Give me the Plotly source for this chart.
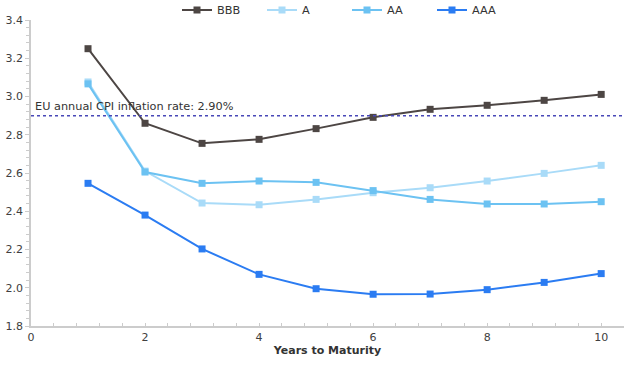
import plotly.graph_objects as go

years = [1, 2, 3, 4, 5, 6, 7, 8, 9, 10]
bbb = [3.25, 2.86, 2.755, 2.776, 2.832, 2.891, 2.933, 2.954, 2.980, 3.011]
a_rating = [3.076, 2.61, 2.443, 2.434, 2.462, 2.497, 2.523, 2.558, 2.598, 2.640]
aa = [3.066, 2.605, 2.546, 2.558, 2.551, 2.508, 2.462, 2.438, 2.438, 2.450]
aaa = [2.546, 2.380, 2.203, 2.070, 1.995, 1.966, 1.967, 1.990, 2.028, 2.074]
cpi_rate = 2.90
cpi_label = "EU annual CPI inflation rate: 2.90%"

series = [
    ("BBB", bbb, "#4d4644"),
    ("A", a_rating, "#a9dbf8"),
    ("AA", aa, "#6cc2f2"),
    ("AAA", aaa, "#2b7cf2"),
]

fig = go.Figure()
for name, vals, color in series:
    fig.add_trace(go.Scatter(
        x=years, y=vals, name=name, mode="lines+markers",
        line=dict(color=color, width=2),
        marker=dict(symbol="square", size=7, color=color),
    ))

fig.add_shape(type="line", xref="paper", yref="y", x0=0, x1=1,
              y0=cpi_rate, y1=cpi_rate,
              line=dict(color="#4848b8", width=1.5, dash="dot"))
fig.add_annotation(xref="paper", yref="y", x=0.004, y=cpi_rate,
                   text=cpi_label, showarrow=False, xanchor="left",
                   yanchor="bottom", yshift=1,
                   font=dict(family="DejaVu Sans", size=11.3, color="#333333"))

fig.update_layout(
    width=642, height=376,
    margin=dict(l=31, r=18, t=20, b=50, autoexpand=False),
    paper_bgcolor="white", plot_bgcolor="white",
    font=dict(family="DejaVu Sans", size=11, color="#404040"),
    showlegend=True,
    legend=dict(orientation="h", xref="container", yref="container",
                x=177 / 642, xanchor="left", y=1 - 10 / 376,
                yanchor="middle", font=dict(size=11.3, color="#333333"),
                entrywidth=40, entrywidthmode="pixels"),
    xaxis=dict(range=[0, 10.4], tickvals=[0, 2, 4, 6, 8, 10],
               automargin=False,
               showgrid=False, zeroline=False, showline=True,
               linecolor="#cccccc", linewidth=1.5,
               ticks="inside", ticklen=3, tickcolor="#cccccc",
               minor=dict(dtick=0.4, tick0=0, ticks="inside", ticklen=3,
                          tickcolor="#cccccc", showgrid=False),
               title=dict(text="<b>Years to Maturity</b>", standoff=2,
                          font=dict(size=11, color="#333333"))),
    yaxis=dict(range=[1.8, 3.4], dtick=0.2, tickformat=".1f",
               automargin=False,
               showgrid=False, zeroline=False, showline=True,
               linecolor="#cccccc", linewidth=1.5,
               ticks="outside", ticklen=4, tickcolor="#cccccc",
               minor=dict(dtick=0.04, ticks="outside", ticklen=3,
                          tickcolor="#cccccc", showgrid=False)),
)

fig.write_html("out.html", config={"displayModeBar": False},
               post_script="document.body.style.margin='0';")
